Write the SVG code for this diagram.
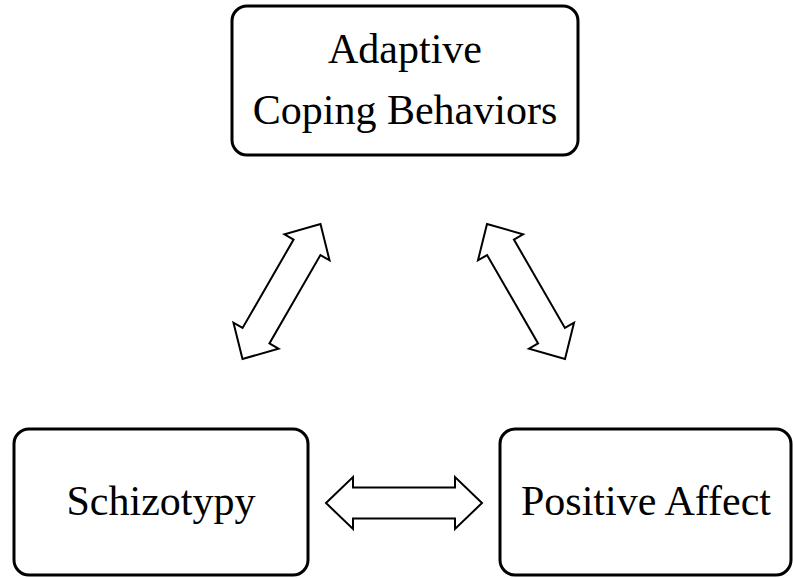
<svg xmlns="http://www.w3.org/2000/svg" width="793" height="578" viewBox="0 0 793 578">
<style>
.box{fill:#fff;stroke:#000;stroke-width:3}
.lbl{font-family:"Liberation Serif","Times New Roman",serif;font-size:42px;fill:#000;text-anchor:middle}
.arr{fill:#fff;stroke:#000;stroke-width:2;stroke-linejoin:miter}
</style>
<defs>
<polygon id="dblarrow" points="-78,0 -51,-26 -51,-15.5 51,-15.5 51,-26 78,0 51,26 51,15.5 -51,15.5 -51,26"/>
</defs>
<rect width="793" height="578" fill="#fff"/>
<g id="node-adaptive">
<rect class="box" x="232" y="6" width="346" height="149" rx="15"/>
<text class="lbl" x="405" y="63">Adaptive</text>
<text class="lbl" x="405" y="124">Coping Behaviors</text>
</g>
<g id="node-schizotypy">
<rect class="box" x="14" y="429" width="294" height="146" rx="15"/>
<text class="lbl" x="161" y="515">Schizotypy</text>
</g>
<g id="node-positive">
<rect class="box" x="500" y="429" width="291" height="146" rx="15"/>
<text class="lbl" x="646" y="515">Positive Affect</text>
</g>
<g id="connectors">
<use href="#dblarrow" class="arr" transform="translate(281.5,291.5) rotate(-60)"/>
<use href="#dblarrow" class="arr" transform="translate(526,291.5) rotate(60)"/>
<use href="#dblarrow" class="arr" transform="translate(404,503)"/>
</g>
</svg>
